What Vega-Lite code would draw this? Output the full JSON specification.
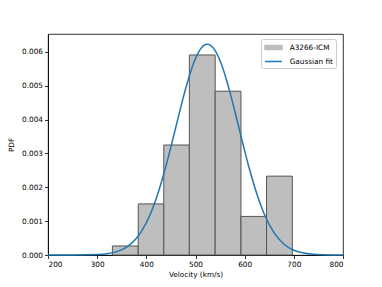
{
  "$schema": "https://vega.github.io/schema/vega-lite/v6.json",
  "width": 295,
  "height": 221,
  "autosize": {"type": "none"},
  "padding": {"left": 48, "top": 34, "right": 39, "bottom": 32},
  "background": "white",
  "config": {
    "font": "DejaVu Sans",
    "view": {"stroke": "black", "strokeWidth": 0.8},
    "axis": {
      "grid": false,
      "labelFont": "DejaVu Sans",
      "labelFontSize": 7.3,
      "labelColor": "black",
      "labelOverlap": false,
      "titleFont": "DejaVu Sans",
      "titleFontSize": 7.3,
      "titleFontWeight": "normal",
      "titleColor": "black",
      "domainColor": "black",
      "domainWidth": 0.8,
      "tickColor": "black",
      "tickWidth": 0.8,
      "tickSize": 3.5,
      "labelPadding": 2
    },
    "legend": {
      "title": null,
      "orient": "none",
      "legendX": 213,
      "legendY": 5,
      "fillColor": "white",
      "strokeColor": "#cccccc",
      "cornerRadius": 2,
      "padding": 3,
      "labelFont": "DejaVu Sans",
      "labelFontSize": 7.3,
      "labelColor": "black",
      "symbolSize": 81,
      "rowPadding": 3,
      "labelOffset": 14.7,
      "symbolOpacity": 1,
      "symbolStrokeWidth": 1.5
    }
  },
  "datasets": {
    "bars": [
      {"start": 331, "end": 383.5, "density": 0.000266, "series": "A3266-ICM"},
      {"start": 383.5, "end": 435.5, "density": 0.00151, "series": "A3266-ICM"},
      {"start": 435.5, "end": 487.5, "density": 0.00325, "series": "A3266-ICM"},
      {"start": 487.5, "end": 540, "density": 0.00591, "series": "A3266-ICM"},
      {"start": 540, "end": 592.5, "density": 0.00484, "series": "A3266-ICM"},
      {"start": 592.5, "end": 644.5, "density": 0.00114, "series": "A3266-ICM"},
      {"start": 644.5, "end": 697, "density": 0.00233, "series": "A3266-ICM"}
    ],
    "fit": [
      {"v": 200, "pdf": 0.0, "series": "Gaussian fit"},
      {"v": 250, "pdf": 0.000001, "series": "Gaussian fit"},
      {"v": 300, "pdf": 0.0000136, "series": "Gaussian fit"},
      {"v": 320, "pdf": 0.0000388, "series": "Gaussian fit"},
      {"v": 340, "pdf": 0.0000999, "series": "Gaussian fit"},
      {"v": 360, "pdf": 0.000234, "series": "Gaussian fit"},
      {"v": 380, "pdf": 0.000496, "series": "Gaussian fit"},
      {"v": 400, "pdf": 0.000953, "series": "Gaussian fit"},
      {"v": 420, "pdf": 0.001664, "series": "Gaussian fit"},
      {"v": 430, "pdf": 0.002119, "series": "Gaussian fit"},
      {"v": 440, "pdf": 0.002633, "series": "Gaussian fit"},
      {"v": 450, "pdf": 0.003193, "series": "Gaussian fit"},
      {"v": 460, "pdf": 0.003779, "series": "Gaussian fit"},
      {"v": 470, "pdf": 0.004364, "series": "Gaussian fit"},
      {"v": 480, "pdf": 0.004919, "series": "Gaussian fit"},
      {"v": 490, "pdf": 0.00541, "series": "Gaussian fit"},
      {"v": 500, "pdf": 0.005807, "series": "Gaussian fit"},
      {"v": 510, "pdf": 0.006083, "series": "Gaussian fit"},
      {"v": 520, "pdf": 0.006218, "series": "Gaussian fit"},
      {"v": 524, "pdf": 0.00623, "series": "Gaussian fit"},
      {"v": 530, "pdf": 0.006203, "series": "Gaussian fit"},
      {"v": 540, "pdf": 0.006038, "series": "Gaussian fit"},
      {"v": 550, "pdf": 0.005737, "series": "Gaussian fit"},
      {"v": 560, "pdf": 0.005319, "series": "Gaussian fit"},
      {"v": 570, "pdf": 0.004812, "series": "Gaussian fit"},
      {"v": 580, "pdf": 0.004248, "series": "Gaussian fit"},
      {"v": 590, "pdf": 0.003661, "series": "Gaussian fit"},
      {"v": 600, "pdf": 0.003078, "series": "Gaussian fit"},
      {"v": 610, "pdf": 0.002526, "series": "Gaussian fit"},
      {"v": 620, "pdf": 0.002023, "series": "Gaussian fit"},
      {"v": 640, "pdf": 0.001205, "series": "Gaussian fit"},
      {"v": 660, "pdf": 0.000652, "series": "Gaussian fit"},
      {"v": 680, "pdf": 0.000319, "series": "Gaussian fit"},
      {"v": 700, "pdf": 0.000142, "series": "Gaussian fit"},
      {"v": 720, "pdf": 0.0000573, "series": "Gaussian fit"},
      {"v": 740, "pdf": 0.0000209, "series": "Gaussian fit"},
      {"v": 760, "pdf": 0.0000069, "series": "Gaussian fit"},
      {"v": 800, "pdf": 0.0, "series": "Gaussian fit"}
    ]
  },
  "encoding": {
    "x": {"type": "quantitative",
      "scale": {"domain": [200, 800], "nice": false, "zero": false},
      "axis": {"values": [200, 300, 400, 500, 600, 700, 800], "title": "Velocity (km/s)", "titlePadding": 3}},
    "y": {"type": "quantitative",
      "scale": {"domain": [0, 0.00653], "nice": false},
      "axis": {"values": [0, 0.001, 0.002, 0.003, 0.004, 0.005, 0.006], "format": ".3f", "title": "PDF", "titlePadding": 6, "labelOverlap": false}},
    "color": {"field": "series", "type": "nominal",
      "scale": {"domain": ["A3266-ICM", "Gaussian fit"], "range": ["#bebebe", "#1f77b4"]}}
  },
  "layer": [
    {
      "data": {"name": "bars"},
      "mark": {"type": "rect", "stroke": "#555555", "strokeWidth": 1, "opacity": 1},
      "encoding": {
        "x": {"field": "start", "type": "quantitative"},
        "x2": {"field": "end"},
        "y": {"field": "density", "type": "quantitative"},
        "y2": {"datum": 0}
      }
    },
    {
      "data": {"name": "fit"},
      "mark": {"type": "line", "strokeWidth": 1.5, "interpolate": "monotone"},
      "encoding": {
        "x": {"field": "v", "type": "quantitative"},
        "y": {"field": "pdf", "type": "quantitative"}
      }
    },
    {
      "data": {"name": "fit"},
      "mark": {"type": "point", "opacity": 0, "filled": true},
      "encoding": {
        "x": {"field": "v", "type": "quantitative"},
        "y": {"field": "pdf", "type": "quantitative"},
        "shape": {"field": "series", "type": "nominal",
          "scale": {"domain": ["A3266-ICM", "Gaussian fit"], "range": ["M-1,-0.47H2.78V0.47H-1Z", "M-1,0H2.78"]}}
      }
    }
  ]
}
